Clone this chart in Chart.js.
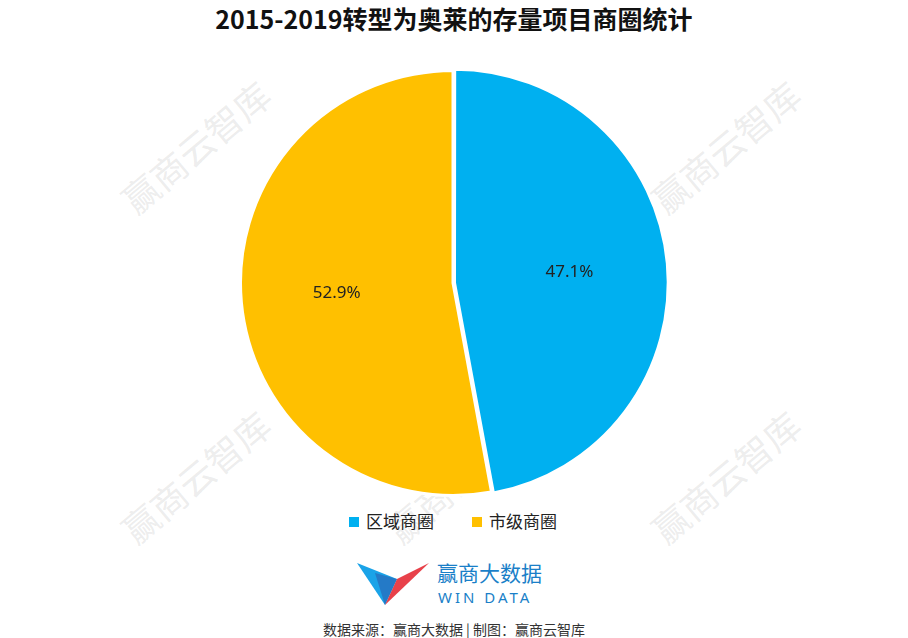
<!DOCTYPE html>
<html><head><meta charset="utf-8">
<script src="https://cdn.jsdelivr.net/npm/chart.js@4"></script>
<style>
body{margin:0;width:908px;height:638px;background:#fff;font-family:"Noto Sans CJK SC","Noto Sans",sans-serif;position:relative;overflow:hidden}
#title{position:absolute;top:0;left:0;width:908px;text-align:center;font-size:25px;font-weight:bold;color:#111;line-height:36px}
#wrap{position:absolute;top:66px;left:0;width:906px;height:434px}
.wm{position:absolute;color:rgba(150,150,150,0.18);font-size:36px;transform:rotate(-40deg);white-space:nowrap}
#legend{position:absolute;top:508px;left:0;width:906px;text-align:center;font-size:17px;color:#222}
#legend span.item{display:inline-block;margin:0 19px}
#legend i{display:inline-block;width:10px;height:10px;margin-right:7px;vertical-align:1px}
#logo{position:absolute;top:555px;left:355px}
#foot{position:absolute;top:619px;left:0;width:908px;text-align:center;font-size:14px;color:#333}
</style></head><body>
<div id="title">2015-2019转型为奥莱的存量项目商圈统计</div>
<div class="wm" style="left:105px;top:120px">赢商云智库</div>
<div class="wm" style="left:370px;top:120px">赢商云智库</div>
<div class="wm" style="left:635px;top:120px">赢商云智库</div>
<div class="wm" style="left:105px;top:450px">赢商云智库</div>
<div class="wm" style="left:370px;top:450px">赢商云智库</div>
<div class="wm" style="left:635px;top:450px">赢商云智库</div>
<div id="wrap"><canvas id="c"></canvas></div>
<div id="legend"></div>
<svg id="logo" width="220" height="56">
<polygon points="2,8 42,24 30,50" fill="#1aa3e8"/>
<polygon points="30,50 42,24 74,8" fill="#e8414a"/>
<polygon points="20,18 42,24 30,50" fill="#2b5fb0" opacity="0.6"/>
<text x="82" y="26" font-size="21" fill="#1a7fc8" font-family="Noto Sans CJK SC">赢商大数据</text>
<text x="83" y="48" font-size="15" fill="#1a7fc8" letter-spacing="3" font-family="Noto Sans">WIN DATA</text>
</svg>
<div id="foot">数据来源：赢商大数据 | 制图：赢商云智库</div>
<script>
const categories=["区域商圈","市级商圈"];
const values=[47.1,52.9];
const colors=["#00b0f0","#ffc000"];
document.getElementById("legend").innerHTML=categories.map((c,i)=>`<span class="item"><i style="background:${colors[i]}"></i>${c}</span>`).join("");
const labelPlugin={id:"lbl",afterDatasetsDraw(ch){const ctx=ch.ctx;const m=ch.getDatasetMeta(0);ctx.save();ctx.font="17px 'Noto Sans',sans-serif";ctx.fillStyle="#222";ctx.textAlign="center";ctx.textBaseline="middle";
m.data.forEach((a,i)=>{const ang=(a.startAngle+a.endAngle)/2;const r=a.outerRadius*0.55;ctx.fillText(values[i].toFixed(1)+"%",a.x+Math.cos(ang)*r,a.y+Math.sin(ang)*r);});ctx.restore();}};
new Chart(document.getElementById("c"),{type:"pie",data:{labels:categories,datasets:[{data:values,backgroundColor:colors,borderColor:"#fff",borderWidth:3,offset:[6,0]}]},
options:{responsive:true,maintainAspectRatio:false,animation:false,
plugins:{tooltip:{enabled:false},legend:{display:false}}},plugins:[labelPlugin]});
</script>
</body></html>
